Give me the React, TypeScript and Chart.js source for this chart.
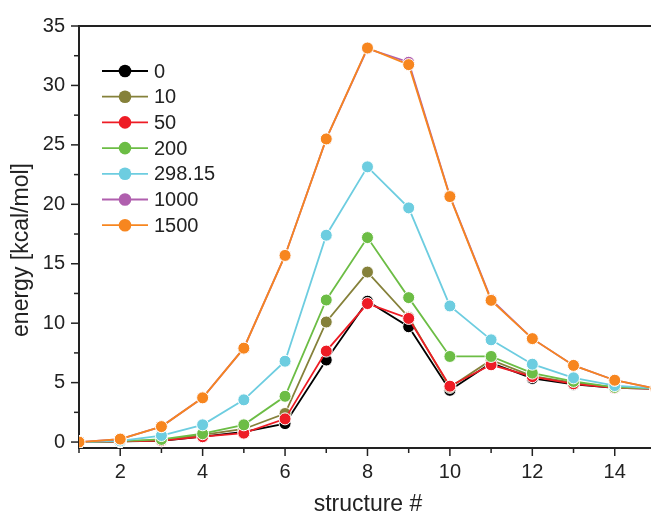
import React, { useEffect, useRef } from "react";
import { Chart, registerables } from "chart.js";

Chart.register(...registerables);

const structures = [1, 2, 3, 4, 5, 6, 7, 8, 9, 10, 11, 12, 13, 14, 15];
const seriesNames = ["0", "10", "50", "200", "298.15", "1000", "1500"];
const seriesColors = ["#000000", "#85813a", "#ee1c25", "#6cbd45", "#6dcde0", "#b05fae", "#f7861f"];

const s0 = [0, 0.05, 0.1, 0.45, 0.85, 1.55, 6.9, 11.85, 9.7, 4.35, 6.65, 5.35, 4.85, 4.55, 4.5];
const s10 = [0, 0.05, 0.15, 0.6, 1.1, 2.4, 10.1, 14.3, 10.5, 4.6, 6.9, 5.55, 5.0, 4.6, 4.5];
const s50 = [0, 0.05, 0.12, 0.45, 0.75, 1.95, 7.65, 11.65, 10.4, 4.7, 6.5, 5.5, 4.9, 4.55, 4.5];
const s200 = [0, 0.07, 0.22, 0.7, 1.45, 3.85, 11.95, 17.2, 12.15, 7.2, 7.2, 5.8, 5.1, 4.6, 4.5];
const s298 = [0, 0.1, 0.55, 1.45, 3.55, 6.8, 17.4, 23.15, 19.7, 11.45, 8.6, 6.55, 5.4, 4.75, 4.5];
const s1000 = [0, 0.25, 1.3, 3.72, 7.9, 15.7, 25.5, 33.1, 31.95, 20.7, 12.0, 8.7, 6.45, 5.2, 4.5];
const s1500 = [0, 0.25, 1.3, 3.72, 7.9, 15.7, 25.5, 33.15, 31.75, 20.65, 11.92, 8.7, 6.45, 5.2, 4.5];
const seriesValues = [s0, s10, s50, s200, s298, s1000, s1500];

const xTickValues = [1, 2, 3, 4, 5, 6, 7, 8, 9, 10, 11, 12, 13, 14];
const yTickValues = [0, 2.5, 5, 7.5, 10, 12.5, 15, 17.5, 20, 22.5, 25, 27.5, 30, 32.5, 35];

const xTitle = "structure #";
const yTitle = "energy [kcal/mol]";

const FONT = '"Liberation Sans", Arial, sans-serif';
const AXIS_COLOR = "#222222";

const decorPlugin = {
  id: "decor",
  afterDraw(chart: any) {
    const { ctx, chartArea, scales } = chart;
    const xs = scales.x;
    const ys = scales.y;
    ctx.save();
    ctx.strokeStyle = AXIS_COLOR;
    ctx.lineWidth = 2;
    // top frame line
    ctx.beginPath();
    ctx.moveTo(chartArea.left, chartArea.top);
    ctx.lineTo(chart.width, chartArea.top);
    ctx.stroke();
    // ticks
    ctx.lineWidth = 1.5;
    xTickValues.forEach((v) => {
      const px = xs.getPixelForValue(v);
      const len = v % 2 === 0 ? 8 : 5;
      ctx.beginPath();
      ctx.moveTo(px, chartArea.bottom);
      ctx.lineTo(px, chartArea.bottom + len);
      ctx.stroke();
    });
    yTickValues.forEach((v) => {
      const py = ys.getPixelForValue(v);
      const len = v % 5 === 0 ? 8 : 5;
      ctx.beginPath();
      ctx.moveTo(chartArea.left, py);
      ctx.lineTo(chartArea.left - len, py);
      ctx.stroke();
    });
    // axis titles
    ctx.fillStyle = AXIS_COLOR;
    ctx.font = `23px ${FONT}`;
    ctx.textAlign = "center";
    ctx.textBaseline = "middle";
    ctx.fillText(xTitle, 368, 505);
    ctx.save();
    ctx.translate(22, 250);
    ctx.rotate(-Math.PI / 2);
    ctx.fillText(yTitle, 0, 0);
    ctx.restore();
    // legend
    const rowH = 25.7;
    seriesNames.forEach((name, i) => {
      const y = 71 + i * rowH;
      ctx.strokeStyle = seriesColors[i];
      ctx.lineWidth = 1.8;
      ctx.beginPath();
      ctx.moveTo(102, y);
      ctx.lineTo(148, y);
      ctx.stroke();
      ctx.beginPath();
      ctx.arc(125, y, 6.3, 0, Math.PI * 2);
      ctx.fillStyle = seriesColors[i];
      ctx.fill();
      ctx.fillStyle = AXIS_COLOR;
      ctx.font = `20px ${FONT}`;
      ctx.textAlign = "left";
      ctx.textBaseline = "middle";
      ctx.fillText(name, 154, y + 1);
    });
    ctx.restore();
  },
};

export default function App() {
  const ref = useRef<HTMLCanvasElement | null>(null);
  useEffect(() => {
    if (!ref.current) return;
    const datasets = seriesNames.map((name, i) => ({
      label: name,
      data: structures.map((x, j) => ({ x, y: seriesValues[i][j] })),
      borderColor: seriesColors[i],
      backgroundColor: seriesColors[i],
      pointBackgroundColor: seriesColors[i],
      pointBorderColor: "#ffffff",
      pointBorderWidth: 1,
      pointRadius: 6,
      borderWidth: 1.8,
      tension: 0,
      order: seriesNames.length - i,
    }));
    const chart = new Chart(ref.current, {
      type: "line",
      data: { datasets },
      options: {
        responsive: false,
        animation: false,
        layout: { autoPadding: false, padding: { top: 23, right: 0, bottom: 0, left: 0 } },
        plugins: { legend: { display: false }, tooltip: { enabled: false } },
        scales: {
          x: {
            type: "linear",
            min: 1,
            max: 14.88,
            afterBuildTicks: (s: any) => {
              s.ticks = xTickValues.map((v) => ({ value: v }));
            },
            afterFit: (s: any) => {
              s.height = 69;
              s.paddingRight = 0;
              s.paddingLeft = 0;
            },
            ticks: {
              autoSkip: false,
              maxRotation: 0,
              padding: 12,
              color: AXIS_COLOR,
              font: { family: FONT, size: 20 },
              callback: (v: any) => (Number(v) % 2 === 0 ? String(v) : ""),
            },
            grid: { display: true, drawOnChartArea: false, drawTicks: false },
            border: { display: true, color: AXIS_COLOR, width: 2 },
          },
          y: {
            type: "linear",
            min: -0.5,
            max: 35,
            afterBuildTicks: (s: any) => {
              s.ticks = yTickValues.map((v) => ({ value: v }));
            },
            afterFit: (s: any) => {
              s.width = 79;
            },
            ticks: {
              autoSkip: false,
              padding: 14,
              color: AXIS_COLOR,
              font: { family: FONT, size: 20 },
              callback: (v: any) => (Number(v) % 5 === 0 ? String(v) : ""),
            },
            grid: { display: true, drawOnChartArea: false, drawTicks: false },
            border: { display: true, color: AXIS_COLOR, width: 2 },
          },
        },
      },
      plugins: [decorPlugin],
    });
    return () => chart.destroy();
  }, []);
  return (
    <div style={{ position: "fixed", left: 0, top: 0, width: 651, height: 517, background: "#fff" }}>
      <canvas ref={ref} width={651} height={517} />
    </div>
  );
}
